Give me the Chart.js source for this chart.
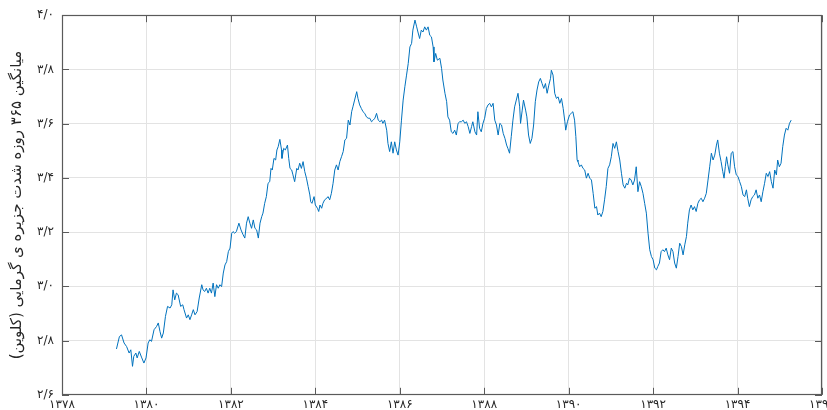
<!DOCTYPE html>
<html>
<head>
<meta charset="utf-8">
<script src="https://cdn.jsdelivr.net/npm/chart.js@4/dist/chart.umd.min.js"></script>
<style>
  html, body { margin: 0; padding: 0; background: #fff; }
</style>
</head>
<body>
<canvas id="isiChart" width="827" height="410" dir="rtl"></canvas>
<script>
// میانگین متحرک ۳۶۵ روزه شدت جزیره گرمایی (کلوین)
const years = [
    1379.29,1379.36,1379.41,1379.47,1379.53,1379.59,1379.63,1379.67,1379.70,1379.75,1379.78,1379.83,1379.89,1379.94,1379.99,
    1380.04,1380.08,1380.12,1380.18,1380.24,1380.28,1380.32,1380.36,1380.40,1380.45,1380.50,1380.56,1380.60,1380.63,1380.67,1380.71,1380.75,1380.81,1380.86,1380.89,1380.95,1380.99,
    1381.03,1381.07,1381.11,1381.15,1381.20,1381.25,1381.31,1381.34,1381.38,1381.42,1381.46,1381.50,1381.54,1381.58,1381.62,1381.66,1381.70,1381.74,1381.78,1381.82,1381.86,1381.90,1381.94,1381.98,
    1382.02,1382.05,1382.09,1382.13,1382.19,1382.24,1382.29,1382.33,1382.37,1382.41,1382.45,1382.49,1382.53,1382.57,1382.61,1382.65,1382.69,1382.73,1382.76,1382.80,1382.84,1382.88,1382.92,1382.95,1382.98,
    1383.02,1383.06,1383.09,1383.12,1383.16,1383.20,1383.21,1383.25,1383.29,1383.34,1383.37,1383.40,1383.44,1383.47,1383.51,1383.56,1383.59,1383.63,1383.67,1383.71,1383.75,1383.79,1383.83,1383.87,1383.89,1383.92,1383.97,
    1384.00,1384.05,1384.08,1384.11,1384.15,1384.18,1384.22,1384.27,1384.30,1384.34,1384.38,1384.42,1384.46,1384.50,1384.54,1384.58,1384.62,1384.66,1384.70,
    1384.74,1384.78,1384.82,1384.86,1384.89,1384.93,1384.98,
    1385.01,1385.05,1385.09,1385.13,1385.17,1385.21,1385.25,1385.29,1385.33,1385.37,1385.41,1385.45,1385.49,1385.53,1385.57,1385.60,1385.64,1385.69,1385.72,1385.76,1385.80,1385.84,1385.88,1385.92,1385.96,
    1386.00,1386.04,1386.08,1386.12,1386.16,1386.20,1386.24,1386.28,1386.31,1386.36,1386.40,1386.43,1386.47,1386.51,1386.55,1386.59,1386.63,1386.67,1386.71,1386.75,1386.79,1386.81,1386.85,1386.89,1386.95,1386.99,
    1387.02,1387.07,1387.11,1387.14,1387.18,1387.22,1387.26,1387.30,1387.34,1387.38,1387.42,
    1387.46,1387.50,1387.54,1387.58,1387.62,1387.66,1387.70,1387.73,1387.78,1387.82,1387.85,1387.89,1387.93,1387.97,
    1388.01,1388.05,1388.09,1388.13,1388.17,1388.21,1388.25,1388.29,1388.33,1388.37,1388.41,1388.45,1388.49,1388.53,1388.56,1388.60,1388.64,1388.68,1388.72,1388.76,1388.80,1388.84,1388.86,1388.90,1388.93,1388.98,
    1389.01,1389.05,1389.09,1389.13,1389.17,1389.21,1389.25,1389.29,1389.33,1389.37,1389.41,1389.45,1389.49,1389.53,1389.57,1389.59,1389.63,1389.67,1389.71,1389.75,1389.79,1389.83,1389.87,1389.91,1389.93,1389.97,
    1390.02,1390.06,1390.10,1390.14,1390.17,1390.20,1390.22,1390.26,1390.30,1390.34,1390.38,1390.42,1390.46,1390.50,1390.54,1390.58,1390.62,1390.66,1390.69,1390.73,1390.77,1390.81,1390.85,1390.89,1390.93,1390.97,
    1391.01,1391.05,1391.09,1391.13,1391.17,1391.21,1391.25,1391.29,1391.33,1391.37,1391.40,1391.44,1391.48,1391.52,1391.56,1391.60,1391.64,1391.68,1391.72,1391.76,1391.80,1391.84,1391.88,1391.92,1391.96,
    1392.00,1392.04,1392.08,1392.11,1392.15,1392.19,1392.23,1392.27,1392.31,1392.35,1392.39,1392.43,1392.47,1392.51,1392.55,1392.59,1392.63,1392.67,1392.71,1392.75,1392.79,1392.82,1392.86,1392.90,1392.94,1392.98,
    1393.02,1393.06,1393.10,1393.14,1393.18,1393.22,1393.26,1393.30,1393.34,1393.38,1393.42,1393.46,1393.50,1393.53,1393.57,1393.61,1393.65,1393.68,1393.71,1393.74,1393.77,1393.81,1393.85,1393.89,1393.93,1393.97,
    1394.01,1394.05,1394.09,1394.13,1394.17,1394.21,1394.24,1394.28,1394.32,1394.36,1394.40,1394.44,1394.48,1394.52,1394.56,1394.60,1394.64,1394.68,1394.72,1394.76,1394.80,1394.84,1394.88,1394.92,1394.95,1394.99,
    1395.03,1395.07,1395.11,1395.15,1395.19,1395.23,1395.27
];

const isiMean = [
    2.769,2.815,2.821,2.791,2.778,2.754,2.766,2.705,2.742,2.754,2.736,2.760,2.736,2.717,2.736,
    2.791,2.803,2.797,2.840,2.852,2.865,2.834,2.809,2.828,2.889,2.926,2.920,2.932,2.987,2.950,2.975,2.969,2.926,2.932,2.914,2.883,2.895,
    2.877,2.895,2.914,2.895,2.907,2.957,3.006,2.987,2.981,2.993,2.975,2.993,2.975,3.012,2.962,3.006,2.993,3.006,2.999,3.049,3.079,3.091,3.128,3.141,
    3.196,3.202,3.196,3.202,3.233,3.208,3.190,3.178,3.233,3.257,3.233,3.214,3.245,3.214,3.208,3.178,3.233,3.257,3.270,3.306,3.331,3.380,3.386,3.435,3.429,
    3.472,3.466,3.503,3.515,3.542,3.503,3.472,3.509,3.503,3.521,3.472,3.435,3.429,3.411,3.386,3.435,3.429,3.454,3.435,3.460,3.423,3.399,3.368,3.337,3.312,3.306,3.331,
    3.300,3.288,3.276,3.300,3.288,3.306,3.319,3.325,3.331,3.319,3.343,3.380,3.429,3.448,3.429,3.460,3.478,3.497,3.540,
    3.546,3.613,3.595,3.644,3.662,3.687,3.718,
    3.693,3.669,3.656,3.644,3.638,3.625,3.620,3.620,3.607,3.613,3.620,3.638,3.613,3.607,3.613,3.601,3.613,3.576,3.527,3.497,3.533,3.491,3.533,3.503,3.484,
    3.533,3.613,3.687,3.736,3.779,3.822,3.883,3.896,3.945,3.982,3.957,3.938,3.914,3.945,3.938,3.957,3.945,3.957,3.926,3.920,3.883,3.828,3.859,3.834,3.841,3.804,
    3.761,3.712,3.681,3.625,3.613,3.570,3.564,3.576,3.558,3.601,3.607,
    3.607,3.613,3.601,3.607,3.589,3.564,3.589,3.607,3.570,3.558,3.644,3.583,3.570,3.601,
    3.620,3.656,3.669,3.675,3.662,3.675,3.613,3.595,3.558,3.601,3.595,3.564,3.546,3.521,3.509,3.491,3.552,3.613,3.662,3.687,3.712,3.662,3.601,3.650,3.687,3.650,
    3.625,3.558,3.527,3.546,3.595,3.681,3.724,3.754,3.767,3.748,3.730,3.748,3.712,3.742,3.767,3.797,3.779,3.712,3.693,3.699,3.675,3.693,3.656,3.607,3.576,3.607,
    3.632,3.638,3.644,3.613,3.552,3.466,3.460,3.441,3.448,3.435,3.429,3.399,3.417,3.399,3.392,3.343,3.288,3.294,3.263,3.270,3.257,3.276,3.319,3.368,3.435,3.448,
    3.478,3.527,3.509,3.533,3.497,3.466,3.417,3.374,3.362,3.380,3.374,3.399,3.392,3.374,3.392,3.441,3.349,3.386,3.368,3.343,3.306,3.270,3.196,3.135,3.110,
    3.098,3.067,3.061,3.073,3.086,3.128,3.135,3.128,3.141,3.116,3.098,3.141,3.128,3.086,3.067,3.110,3.159,3.147,3.116,3.153,3.184,3.233,3.282,3.300,3.282,3.294,
    3.276,3.306,3.319,3.325,3.312,3.325,3.343,3.392,3.441,3.491,3.466,3.484,3.521,3.540,3.491,3.460,3.423,3.399,3.441,3.478,3.448,3.417,3.491,3.497,3.441,3.411,
    3.405,3.386,3.368,3.337,3.331,3.356,3.325,3.294,3.319,3.331,3.337,3.356,3.325,3.337,3.312,3.349,3.380,3.417,3.405,3.423,3.386,3.362,3.429,3.411,3.466,3.441,
    3.454,3.515,3.558,3.583,3.576,3.601,3.613
];

const xTicks = [1378, 1380, 1382, 1384, 1386, 1388, 1390, 1392, 1394, 1396];
const yTicks = [2.6, 2.8, 3.0, 3.2, 3.4, 3.6, 3.8, 4.0];
const yTitle = 'میانگین ۳۶۵ روزه شدت جزیره ی گرمایی (کلوین)';

const FONT = 'DejaVu Sans';
const PERSIAN_DIGITS = ['۰','۱','۲','۳','۴','۵','۶','۷','۸','۹'];

function _toPersian(str) {
    return String(str).replace(/[0-9]/g, d => PERSIAN_DIGITS[+d]).replace('.', '/');
}

// قاب دور نمودار و تیک‌های رو به داخل (سبک متلب)
const _frameTicks = {
    id: 'frameTicks',
    afterDatasetsDraw(chart) {
        const { ctx, chartArea: a, scales: { x, y } } = chart;
        const len = 7;
        ctx.save();
        ctx.strokeStyle = '#5a5a5a';
        ctx.lineWidth = 1;
        ctx.beginPath();
        xTicks.forEach(v => {
            const px = Math.round(x.getPixelForValue(v)) + 0.5;
            ctx.moveTo(px, a.bottom); ctx.lineTo(px, a.bottom - len);
            ctx.moveTo(px, a.top);    ctx.lineTo(px, a.top + len);
        });
        yTicks.forEach(v => {
            const py = Math.round(y.getPixelForValue(v)) + 0.5;
            ctx.moveTo(a.left, py);  ctx.lineTo(a.left + len, py);
            ctx.moveTo(a.right, py); ctx.lineTo(a.right - len, py);
        });
        ctx.stroke();
        ctx.lineWidth = 1.2;
        ctx.strokeRect(Math.round(a.left) + 0.5, Math.round(a.top) + 0.5,
            Math.round(a.width) - 1, Math.round(a.height) - 1);
        ctx.restore();
    }
};

const points = years.map((yr, i) => ({ x: yr, y: isiMean[i] }));

new Chart(document.getElementById('isiChart'), {
    type: 'line',
    data: {
        datasets: [{
            data: points,
            borderColor: '#0072BD',
            borderWidth: 1,
            pointRadius: 0,
            tension: 0,
            fill: false
        }]
    },
    options: {
        responsive: false,
        animation: false,
        devicePixelRatio: 1,
        layout: { padding: { top: 15, right: 5, left: 0, bottom: 0 } },
        plugins: { legend: { display: false }, tooltip: { enabled: false } },
        scales: {
            x: {
                type: 'linear',
                min: 1378,
                max: 1396,
                afterBuildTicks: s => { s.ticks = xTicks.map(v => ({ value: v })); },
                afterFit: s => { s.height = 15; s.paddingLeft = 0; s.paddingRight = 0; },
                grid: { color: '#e3e3e3', drawTicks: false },
                border: { display: false },
                ticks: {
                    padding: 3,
                    maxRotation: 0,
                    color: '#262626',
                    font: { family: FONT, size: 12 },
                    callback: v => _toPersian(v)
                }
            },
            y: {
                min: 2.6,
                max: 4.0,
                afterBuildTicks: s => { s.ticks = yTicks.map(v => ({ value: v })); },
                afterFit: s => { s.width = 62; },
                grid: { color: '#e3e3e3', drawTicks: false },
                border: { display: false },
                ticks: {
                    padding: 8,
                    color: '#262626',
                    font: { family: FONT, size: 12 },
                    callback: v => _toPersian(v.toFixed(1))
                },
                title: {
                    display: true,
                    text: yTitle,
                    color: '#262626',
                    font: { family: FONT, size: 15 },
                    padding: { top: 8, bottom: 0 }
                }
            }
        }
    },
    plugins: [_frameTicks]
});
</script>
</body>
</html>
